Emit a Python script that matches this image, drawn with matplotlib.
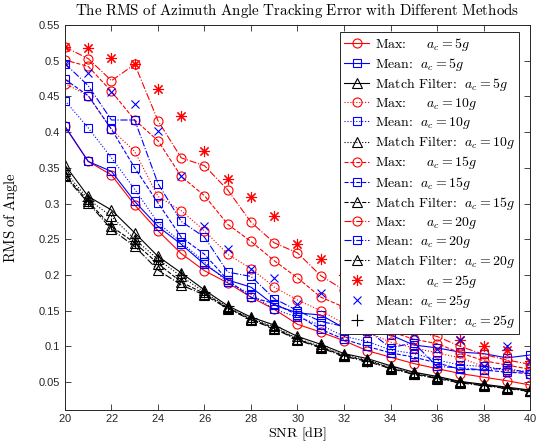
import numpy as np
import matplotlib
matplotlib.use("Agg")
import matplotlib.pyplot as plt

plt.rcParams['mathtext.fontset'] = 'cm'
plt.rcParams['axes.formatter.use_mathtext'] = True

snr = list(range(20, 41))

# Max method
max_5 = [0.408, 0.359, 0.340, 0.298, 0.262, 0.230, 0.206, 0.189, 0.169, 0.152, 0.131,
         0.120, 0.108, 0.094, 0.085, 0.076, 0.069, 0.062, 0.057, 0.052, 0.046]
max_10 = [0.468, 0.451, 0.404, 0.373, 0.310, 0.290, 0.262, 0.229, 0.209, 0.183, 0.165,
          0.150, 0.132, 0.120, 0.106, 0.098, 0.091, 0.084, 0.072, 0.066, 0.062]
max_15 = [0.501, 0.492, 0.457, 0.417, 0.388, 0.338, 0.311, 0.271, 0.247, 0.220, 0.196,
          0.169, 0.155, 0.137, 0.121, 0.110, 0.104, 0.091, 0.080, 0.074, 0.068]
max_20 = [0.519, 0.503, 0.472, 0.495, 0.416, 0.364, 0.353, 0.319, 0.274, 0.245, 0.231,
          0.199, 0.179, 0.164, 0.141, 0.121, 0.114, 0.100, 0.089, 0.081, 0.075]
max_25 = [0.519, 0.518, 0.504, 0.495, 0.461, 0.423, 0.374, 0.335, 0.309, 0.282, 0.243,
          0.222, 0.200, 0.176, 0.159, 0.141, 0.124, 0.109, 0.100, 0.095, 0.080]

# Mean method
mean_5 = [0.408, 0.359, 0.345, 0.303, 0.268, 0.243, 0.215, 0.193, 0.183, 0.158, 0.147,
          0.144, 0.126, 0.121, 0.116, 0.102, 0.098, 0.092, 0.090, 0.084, 0.088]
mean_10 = [0.444, 0.406, 0.364, 0.320, 0.273, 0.246, 0.218, 0.190, 0.173, 0.152, 0.141,
           0.130, 0.114, 0.107, 0.095, 0.090, 0.081, 0.074, 0.072, 0.067, 0.065]
mean_15 = [0.474, 0.451, 0.404, 0.350, 0.301, 0.253, 0.229, 0.193, 0.169, 0.160, 0.144,
           0.124, 0.110, 0.100, 0.091, 0.085, 0.077, 0.068, 0.067, 0.064, 0.062]
mean_20 = [0.496, 0.465, 0.417, 0.417, 0.328, 0.275, 0.253, 0.204, 0.198, 0.167, 0.150,
           0.135, 0.128, 0.123, 0.098, 0.105, 0.072, 0.070, 0.067, 0.070, 0.062]
mean_25 = [0.496, 0.483, 0.456, 0.439, 0.402, 0.338, 0.269, 0.236, 0.209, 0.196, 0.160,
           0.175, 0.155, 0.135, 0.124, 0.117, 0.096, 0.109, 0.072, 0.100, 0.080]

# Match filter
mf_5 = [0.354, 0.310, 0.291, 0.259, 0.226, 0.203, 0.179, 0.157, 0.141, 0.130, 0.114,
        0.103, 0.090, 0.083, 0.073, 0.064, 0.058, 0.051, 0.047, 0.043, 0.039]
mf_10 = [0.345, 0.306, 0.282, 0.250, 0.222, 0.198, 0.176, 0.155, 0.139, 0.128, 0.111,
         0.100, 0.088, 0.081, 0.071, 0.063, 0.057, 0.050, 0.046, 0.042, 0.038]
mf_15 = [0.340, 0.303, 0.268, 0.245, 0.216, 0.190, 0.174, 0.154, 0.138, 0.126, 0.110,
         0.099, 0.087, 0.080, 0.070, 0.062, 0.056, 0.050, 0.046, 0.042, 0.038]
mf_20 = [0.338, 0.301, 0.264, 0.240, 0.207, 0.186, 0.172, 0.153, 0.137, 0.125, 0.109,
         0.098, 0.086, 0.079, 0.069, 0.061, 0.055, 0.049, 0.045, 0.041, 0.037]
mf_25 = [0.342, 0.304, 0.271, 0.248, 0.221, 0.200, 0.176, 0.156, 0.140, 0.127, 0.112,
         0.100, 0.088, 0.080, 0.071, 0.063, 0.057, 0.050, 0.046, 0.042, 0.038]

fig = plt.figure(figsize=(5.37, 4.42), dpi=100)
ax = fig.add_axes([0.121, 0.0724, 0.866, 0.871])

lw = 0.8
ms = 6.5

def draw(y, ls, color, marker, label, size=ms):
    ax.plot(snr, y, linestyle=ls, color=color, marker=marker, markersize=size,
            markerfacecolor='none', markeredgewidth=lw, linewidth=lw, label=label)

lab_max = r'$\text{Max:}\ \ \ \ \ a_c=%sg$'
lab_mean = r'$\text{Mean:}\ \ a_c=%sg$'
lab_mf = r'$\text{Match Filter:}\ \ a_c=%sg$'

styles = ['-', ':', '--', '-.']
accs = ['5', '10', '15', '20']
for ls, a, ym, ymn, yf in zip(styles, accs,
                              [max_5, max_10, max_15, max_20],
                              [mean_5, mean_10, mean_15, mean_20],
                              [mf_5, mf_10, mf_15, mf_20]):
    draw(ym, ls, 'red', 'o', lab_max % a)
    draw(ymn, ls, 'blue', 's', lab_mean % a, 6)
    draw(yf, ls, 'black', '^', lab_mf % a, 7.5)

draw(max_25, 'none', 'red', (8, 2, 0), lab_max % '25', 8)
draw(mean_25, 'none', 'blue', 'x', lab_mean % '25', 6)
draw(mf_25, 'none', 'black', '+', lab_mf % '25', 8)

ax.set_xlim(20, 40)
ax.set_ylim(0.011, 0.55)
ax.set_xticks(range(20, 41, 2))
ax.set_yticks([0.05, 0.1, 0.15, 0.2, 0.25, 0.3, 0.35, 0.4, 0.45, 0.5, 0.55])
ax.set_yticklabels(['0.05', '0.1', '0.15', '0.2', '0.25', '0.3', '0.35', '0.4',
                    '0.45', '0.5', '0.55'])
ax.tick_params(direction='in', top=True, right=True, length=4, width=0.6,
               labelsize=8, colors='#262626')
ax.tick_params(axis='x', pad=1.5)
for lab in ax.get_xticklabels() + ax.get_yticklabels():
    lab.set_family('Liberation Sans')
for s in ax.spines.values():
    s.set_linewidth(0.7)
    s.set_color('#262626')

ax.set_title(r'$\mathrm{The\ RMS\ of\ Azimuth\ Angle\ Tracking\ Error\ with\ Different\ Methods}$',
             fontsize=10.8, pad=7)
ax.set_xlabel(r'$\mathrm{SNR\ [dB]}$', fontsize=10.2, va='baseline')
ax.xaxis.set_label_coords(0.5, -0.0705)
ax.set_ylabel(r'$\mathrm{RMS\ of\ Angle}$', fontsize=10.5, va='center')
ax.yaxis.set_label_coords(-0.117, 0.5)

leg = ax.legend(loc='upper right', bbox_to_anchor=(0.976, 0.982),
                prop={'size': 10},
                handlelength=1.8, handletextpad=0.4, labelspacing=0.22,
                borderpad=0.3, borderaxespad=0, fancybox=False,
                framealpha=1, edgecolor='#262626')
leg.get_frame().set_linewidth(0.7)

fig.savefig('out.png', dpi=100)
